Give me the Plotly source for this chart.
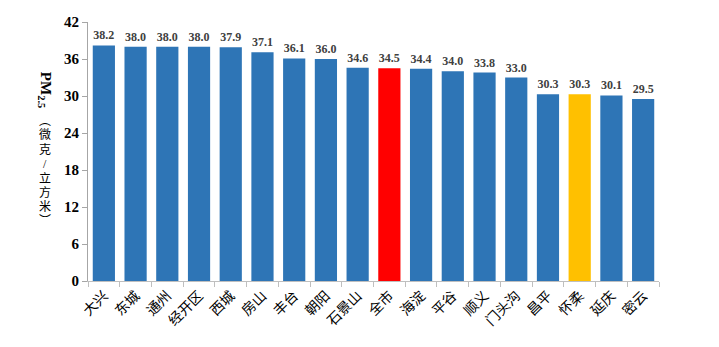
import plotly.graph_objects as go

categories = ["大兴", "东城", "通州", "经开区", "西城", "房山", "丰台", "朝阳", "石景山",
              "全市", "海淀", "平谷", "顺义", "门头沟", "昌平", "怀柔", "延庆", "密云"]
values = [38.2, 38.0, 38.0, 38.0, 37.9, 37.1, 36.1, 36.0, 34.6,
          34.5, 34.4, 34.0, 33.8, 33.0, 30.3, 30.3, 30.1, 29.5]
y_ticks = [0, 6, 12, 18, 24, 30, 36, 42]
unit_chars = ["︵", "微", "克", "/", "立", "方", "米", "︶"]

colors = []
for c in categories:
    if c == "全市":
        colors.append("#FF0000")
    elif c == "怀柔":
        colors.append("#FFC000")
    else:
        colors.append("#2E75B6")

fig = go.Figure(go.Bar(
    x=categories, y=values, marker_color=colors, marker_line_width=0,
    texttemplate="%{y:.1f}", textposition="outside", cliponaxis=False,
    textfont=dict(family="Liberation Serif", size=12, color="#404040", weight="bold"),
))

H, T, B = 347, 22, 66
plot_h = H - T - B
annotations = [
    dict(text="PM<sub>2.5</sub>", textangle=90, xref="paper", yref="paper",
         x=-0.075, y=(H - B - 70) / plot_h, xanchor="center", yanchor="top", showarrow=False,
         font=dict(family="Liberation Serif", size=15, color="black", weight="bold")),
]
for i, ch in enumerate(unit_chars):
    py = 121 + i * 14.3
    annotations.append(dict(
        text=ch, xref="paper", yref="paper", x=-0.075, y=(H - B - py) / plot_h,
        xanchor="center", yanchor="middle", showarrow=False, borderpad=0,
        font=dict(family="Liberation Serif, Noto Sans CJK SC", size=12, color="black")))

fig.update_layout(
    width=719, height=347, margin=dict(l=88, r=60, t=T, b=B),
    paper_bgcolor="white", plot_bgcolor="white", bargap=0.3, showlegend=False,
    xaxis=dict(showline=True, linecolor="#BFBFBF", linewidth=1, ticks="outside",
               tickson="boundaries", ticklen=5, tickcolor="#BFBFBF", tickangle=-45,
               tickfont=dict(family="Noto Sans CJK SC", size=14, color="black")),
    yaxis=dict(range=[0, 42], tickvals=y_ticks, showline=True, linecolor="#A6A6A6",
               linewidth=1, ticks="outside", ticklen=5, tickcolor="#A6A6A6",
               showgrid=False, zeroline=False,
               tickfont=dict(family="Liberation Serif", size=15, color="black", weight="bold")),
    annotations=annotations,
)

fig.write_html("out.html")
